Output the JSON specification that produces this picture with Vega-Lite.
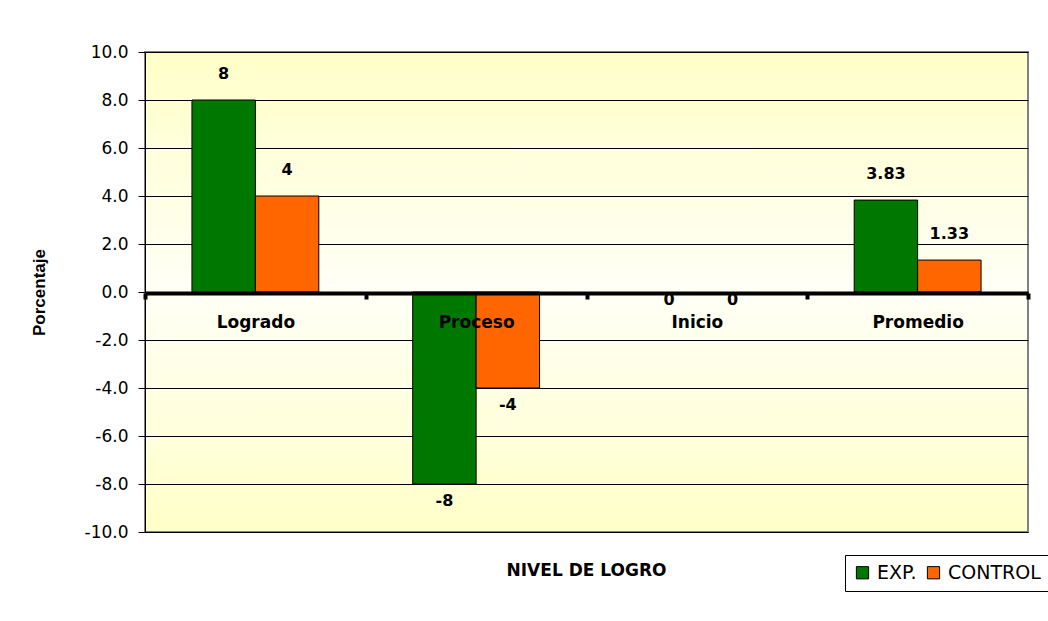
{
  "$schema": "https://vega.github.io/schema/vega-lite/v6.json",
  "width": 883,
  "height": 480,
  "autosize": {"type": "none"},
  "padding": {"left": 145, "top": 52, "right": 20, "bottom": 89},
  "background": "white",
  "title": {
    "text": "NIVEL DE LOGRO",
    "orient": "bottom",
    "anchor": "middle",
    "offset": -29,
    "font": "DejaVu Sans",
    "fontSize": 17,
    "fontWeight": "bold",
    "color": "black"
  },
  "data": {
    "values": [
      {"nivel": "Logrado", "grupo": "EXP.", "valor": 8},
      {"nivel": "Logrado", "grupo": "CONTROL", "valor": 4},
      {"nivel": "Proceso", "grupo": "EXP.", "valor": -8},
      {"nivel": "Proceso", "grupo": "CONTROL", "valor": -4},
      {"nivel": "Inicio", "grupo": "EXP.", "valor": 0},
      {"nivel": "Inicio", "grupo": "CONTROL", "valor": 0},
      {"nivel": "Promedio", "grupo": "EXP.", "valor": 3.83},
      {"nivel": "Promedio", "grupo": "CONTROL", "valor": 1.33}
    ]
  },
  "encoding": {
    "x": {
      "field": "nivel",
      "type": "nominal",
      "sort": ["Logrado", "Proceso", "Inicio", "Promedio"],
      "scale": {"paddingInner": 0, "paddingOuter": 0},
      "axis": {
        "title": null,
        "orient": "bottom",
        "offset": -239,
        "zindex": 1,
        "domainColor": "black",
        "domainWidth": 4,
        "tickColor": "black",
        "tickWidth": 4,
        "tickSize": 6,
        "tickBand": "extent",
        "labelAngle": 0,
        "labelPadding": 15,
        "labelFont": "DejaVu Sans",
        "labelFontSize": 17,
        "labelFontWeight": "bold",
        "labelColor": "black"
      }
    },
    "xOffset": {
      "field": "grupo",
      "type": "nominal",
      "sort": ["EXP.", "CONTROL"],
      "scale": {"paddingInner": 0, "paddingOuter": 0.74}
    },
    "y": {
      "field": "valor",
      "type": "quantitative",
      "scale": {"domain": [-10, 10], "nice": false},
      "axis": {
        "title": "Porcentaje",
        "values": [-10, -8, -6, -4, -2, 0, 2, 4, 6, 8, 10],
        "format": ".1f",
        "grid": true,
        "gridColor": "black",
        "gridWidth": 1,
        "domainColor": "black",
        "domainWidth": 1,
        "tickColor": "black",
        "tickSize": 7,
        "labelPadding": 10,
        "labelFont": "DejaVu Sans",
        "labelFontSize": 17,
        "labelColor": "black",
        "titleFont": "Liberation Sans",
        "titleFontSize": 17,
        "titleFontWeight": "bold",
        "titleColor": "black",
        "titlePadding": 36
      }
    }
  },
  "layer": [
    {
      "transform": [{"filter": "datum.valor != 0"}],
      "mark": {"type": "bar", "stroke": "black", "strokeWidth": 1},
      "encoding": {
        "color": {
          "field": "grupo",
          "type": "nominal",
          "sort": ["EXP.", "CONTROL"],
          "scale": {"domain": ["EXP.", "CONTROL"], "range": ["#007800", "#FF6600"]},
          "legend": {
            "title": null,
            "orient": "none",
            "legendX": 700,
            "legendY": 503,
            "direction": "horizontal",
            "symbolType": "square",
            "symbolSize": 150,
            "symbolStrokeColor": "black",
            "symbolStrokeWidth": 1,
            "symbolOpacity": 1,
            "labelFont": "DejaVu Sans",
            "labelFontSize": 19,
            "labelColor": "black",
            "labelOffset": 5,
            "columnPadding": 7,
            "strokeColor": "black",
            "fillColor": "white",
            "padding": 8
          }
        }
      }
    },
    {
      "transform": [{"filter": "datum.valor > 0"}],
      "mark": {"type": "text", "baseline": "middle", "dy": -26, "font": "DejaVu Sans", "fontSize": 16, "fontWeight": "bold", "color": "black"},
      "encoding": {"text": {"field": "valor", "type": "quantitative", "format": ".3~f"}}
    },
    {
      "transform": [{"filter": "datum.valor < 0"}],
      "mark": {"type": "text", "baseline": "middle", "dy": 17, "font": "DejaVu Sans", "fontSize": 16, "fontWeight": "bold", "color": "black"},
      "encoding": {"text": {"field": "valor", "type": "quantitative", "format": ".3~f"}}
    },
    {
      "transform": [{"filter": "datum.valor == 0"}],
      "mark": {"type": "text", "baseline": "middle", "dy": 8, "dx": 4, "font": "DejaVu Sans", "fontSize": 16, "fontWeight": "bold", "color": "black"},
      "encoding": {"text": {"field": "valor", "type": "quantitative", "format": ".3~f"}}
    }
  ],
  "config": {
    "locale": {"number": {"decimal": ".", "thousands": ",", "grouping": [3], "currency": ["$", ""], "minus": "-"}},
    "view": {
      "stroke": "#808080",
      "strokeWidth": 2,
      "fill": {
        "gradient": "linear",
        "x1": 0, "y1": 0, "x2": 0, "y2": 1,
        "stops": [
          {"offset": 0, "color": "#FFFFC8"},
          {"offset": 0.5, "color": "#FFFFF6"},
          {"offset": 1, "color": "#FFFFC8"}
        ]
      }
    }
  }
}
